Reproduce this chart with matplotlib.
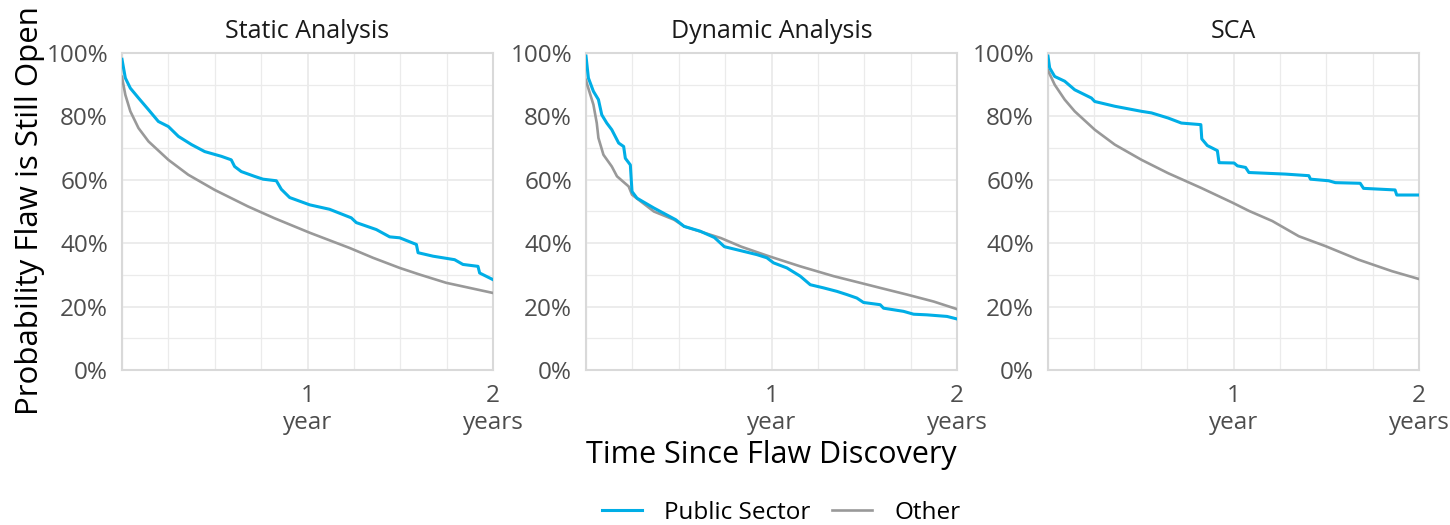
import numpy as np
import matplotlib.pyplot as plt
from matplotlib.ticker import FixedLocator, MultipleLocator
from matplotlib.lines import Line2D

plt.rcParams['font.family'] = ['Open Sans', 'DejaVu Sans']

# Survival curves (t in years, probability in %)
panels = ["Static Analysis", "Dynamic Analysis", "SCA"]

static_pub_t = [0, 0.018, 0.045, 0.089, 0.143, 0.196, 0.25, 0.304, 0.375, 0.446, 0.536, 0.589,
                0.607, 0.643, 0.714, 0.760, 0.832, 0.859, 0.904, 1.012, 1.119, 1.236, 1.263,
                1.371, 1.443, 1.497, 1.587, 1.596, 1.677, 1.793, 1.838, 1.919, 1.928, 2.0]
static_pub_p = [98.0, 92.1, 88.9, 85.8, 82.1, 78.4, 76.8, 73.7, 71.1, 68.9, 67.4, 66.3,
                64.2, 62.6, 61.1, 60.2, 59.7, 57.0, 54.4, 52.1, 50.7, 48.0, 46.5,
                44.3, 42.0, 41.7, 39.6, 37.0, 35.9, 34.8, 33.3, 32.7, 30.6, 28.5]
static_oth_t = [0, 0.004, 0.018, 0.045, 0.089, 0.143, 0.25, 0.357, 0.5, 0.679, 0.821, 1.012,
                1.227, 1.353, 1.497, 1.605, 1.748, 2.0]
static_oth_p = [92.5, 91.1, 86.8, 81.6, 76.3, 72.1, 66.3, 61.6, 56.8, 51.6, 47.9, 43.3,
                38.5, 35.4, 32.2, 30.1, 27.5, 24.3]

dyn_pub_t = [0, 0.013, 0.040, 0.067, 0.085, 0.112, 0.139, 0.176, 0.203, 0.212, 0.239, 0.248,
             0.275, 0.366, 0.484, 0.529, 0.615, 0.692, 0.746, 0.837, 0.921,
             0.975, 1.011, 1.083, 1.155, 1.209, 1.281, 1.353, 1.406, 1.460, 1.496, 1.586,
             1.604, 1.712, 1.766, 1.838, 1.946, 2.0]
dyn_pub_p = [99.0, 92.1, 87.9, 85.3, 80.5, 77.9, 75.8, 71.6, 70.5, 66.8, 64.7, 56.3,
             54.2, 51.1, 47.4, 45.3, 43.8, 41.8, 38.9, 37.6, 36.4,
             35.4, 33.8, 32.2, 29.6, 26.9, 25.9, 24.8, 23.8, 22.7, 21.3, 20.6,
             19.5, 18.5, 17.6, 17.4, 16.9, 16.1]
dyn_oth_t = [0, 0.004, 0.040, 0.058, 0.067, 0.094, 0.139, 0.167, 0.230, 0.248, 0.366, 0.475,
             0.529, 0.728, 0.837, 0.975, 1.155, 1.335, 1.478, 1.586, 1.730, 1.874, 2.0]
dyn_oth_p = [91.5, 90.5, 83.7, 77.9, 73.2, 67.9, 64.2, 61.1, 57.9, 55.3, 50.0, 47.4,
             45.3, 41.6, 38.9, 36.1, 32.7, 29.6, 27.5, 25.9, 23.8, 21.6, 19.2]

sca_pub_t = [0, 0.009, 0.036, 0.090, 0.144, 0.234, 0.252, 0.360, 0.504, 0.558, 0.647, 0.719,
             0.824, 0.829, 0.859, 0.913, 0.922, 1.003, 1.021,
             1.065, 1.083, 1.280, 1.406, 1.415, 1.513, 1.549, 1.683, 1.701, 1.871, 1.880, 2.0]
sca_pub_p = [99.0, 95.3, 92.6, 91.1, 88.4, 85.8, 84.7, 83.2, 81.6, 81.1, 79.5, 77.9,
             77.4, 72.9, 70.8, 69.2, 65.4, 65.3, 64.4,
             63.9, 62.3, 61.8, 61.3, 60.2, 59.7, 59.1, 58.9, 57.3, 56.8, 55.2, 55.2]
sca_oth_t = [0, 0.036, 0.090, 0.144, 0.252, 0.360, 0.504, 0.647, 0.827, 0.994, 1.083, 1.209,
             1.352, 1.495, 1.674, 1.853, 2.0]
sca_oth_p = [94.5, 90.0, 85.3, 81.6, 75.8, 71.1, 66.3, 62.1, 57.4, 52.8, 50.2, 47.0,
             42.2, 39.1, 34.8, 31.2, 28.7]

public_series = [(static_pub_t, static_pub_p), (dyn_pub_t, dyn_pub_p), (sca_pub_t, sca_pub_p)]
other_series = [(static_oth_t, static_oth_p), (dyn_oth_t, dyn_oth_p), (sca_oth_t, sca_oth_p)]

blue = "#00AEE6"
gray = "#999999"

fig = plt.figure(figsize=(14.5, 5.25), dpi=100)
lefts = [122, 586, 1048]
for i, name in enumerate(panels):
    ax = fig.add_axes([lefts[i] / 1450, 1 - 370 / 525, 371 / 1450, 317 / 525])
    ot, op = other_series[i]
    pt, pp = public_series[i]
    ax.plot(ot, np.array(op) / 100, color=gray, lw=1.9, zorder=3)
    ax.plot(pt, np.array(pp) / 100, color=blue, lw=2.2, zorder=4)
    ax.set_xlim(0, 2)
    ax.set_ylim(0, 1)
    ax.yaxis.set_major_locator(FixedLocator([0, 0.2, 0.4, 0.6, 0.8, 1.0]))
    ax.set_yticklabels(["0%", "20%", "40%", "60%", "80%", "100%"])
    ax.yaxis.set_minor_locator(MultipleLocator(0.1))
    ax.xaxis.set_major_locator(FixedLocator([1, 2]))
    ax.set_xticklabels(["1\nyear", "2\nyears"], linespacing=1.15)
    ax.xaxis.set_minor_locator(MultipleLocator(0.25))
    ax.grid(which='major', color="#ebebeb", lw=1.3)
    ax.grid(which='minor', color="#ebebeb", lw=0.9)
    ax.set_axisbelow(True)
    ax.tick_params(which='both', length=0, labelsize=17.5, colors="#4d4d4d")
    ax.tick_params(axis='y', pad=10)
    ax.tick_params(axis='x', pad=10)
    for s in ax.spines.values():
        s.set_color("#d9d9d9")
        s.set_linewidth(1.5)
    ax.set_title(name, fontsize=18, color="#1a1a1a", pad=11)

fig.text(30 / 1450, 1 - 211 / 525, "Probability Flaw is Still Open", rotation=90,
         ha='center', va='center', fontsize=22.5, color="black")
fig.text(771 / 1450, 1 - 455 / 525, "Time Since Flaw Discovery",
         ha='center', va='center', fontsize=22, color="black")

handles = [Line2D([], [], color=blue, lw=2.2), Line2D([], [], color=gray, lw=1.9)]
fig.legend(handles, ["Public Sector", "Other"], loc='center', ncol=2,
           bbox_to_anchor=(781 / 1450, 1 - 513 / 525), frameon=False,
           fontsize=17.5, handlelength=1.65, columnspacing=0.9, handletextpad=0.9)

fig.savefig("out.png", dpi=100)
